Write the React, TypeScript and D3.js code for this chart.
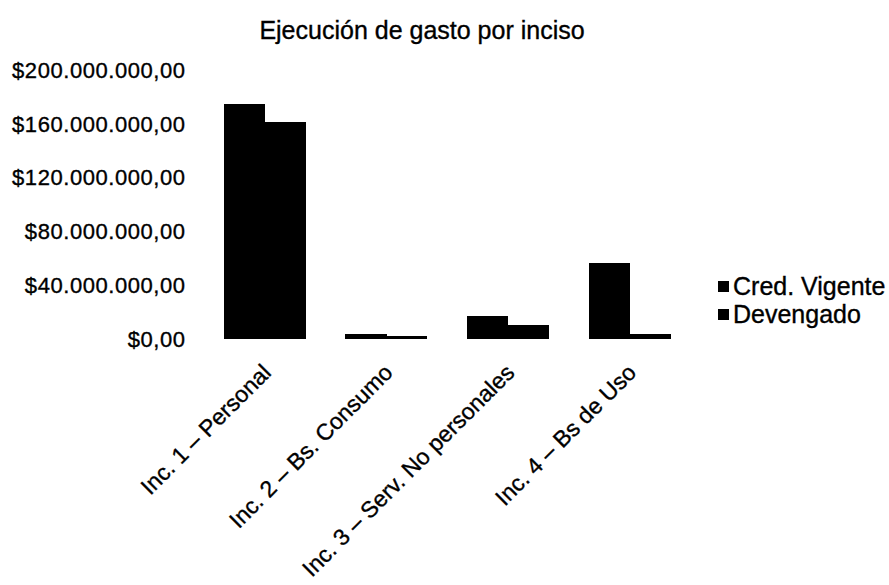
import React from "react";
import * as d3 from "d3";

const categories = [
  "Inc. 1 – Personal",
  "Inc. 2 – Bs. Consumo",
  "Inc. 3 – Serv. No personales",
  "Inc. 4 – Bs de Uso",
];
const seriesNames = ["Cred. Vigente", "Devengado"];
const credVigente = [175000000, 3500000, 17000000, 56500000];
const devengado = [161000000, 2300000, 10700000, 3500000];
const yTicks = [0, 40000000, 80000000, 120000000, 160000000, 200000000];
const title = "Ejecución de gasto por inciso";

const W = 889;
const H = 585;
const FONT = "'Liberation Sans', Arial, Helvetica, sans-serif";

function fmt(v: number): string {
  const intPart = Math.round(v).toString().replace(/\B(?=(\d{3})+(?!\d))/g, ".");
  return "$" + intPart + ",00";
}

export default function App() {
  const x = d3
    .scaleBand<string>()
    .domain(categories)
    .range([203.5, 690.5])
    .paddingInner(0.33)
    .paddingOuter(0.165);
  const xs = d3.scaleBand<string>().domain(seriesNames).range([0, x.bandwidth()]);
  const y = d3.scaleLinear().domain([0, 200000000]).range([339, 70]);
  const seriesData = [credVigente, devengado];
  const textProps = { fill: "#000", stroke: "#000", strokeWidth: 0.35 };

  return (
    <svg
      width={W}
      height={H}
      style={{ position: "absolute", left: 0, top: 0, background: "#fff" }}
      fontFamily={FONT}
    >
      <rect x={0} y={0} width={W} height={H} fill="#fff" />
      <text x={422} y={39} textAnchor="middle" fontSize={25} {...textProps}>
        {title}
      </text>
      {yTicks.map((t) => (
        <text
          key={t}
          x={185.5}
          y={y(t)}
          dy="0.35em"
          textAnchor="end"
          fontSize={22}
          letterSpacing={0.55}
          {...textProps}
        >
          {fmt(t)}
        </text>
      ))}
      {categories.map((c, i) => (
        <g key={c} transform={`translate(${x(c)},0)`}>
          {seriesNames.map((s, j) => (
            <rect
              key={s}
              x={xs(s)}
              y={y(seriesData[j][i])}
              width={(xs.bandwidth() as number) + 0.5}
              height={y(0) - y(seriesData[j][i])}
              fill="#000"
              shapeRendering="crispEdges"
            />
          ))}
        </g>
      ))}
      {categories.map((c) => {
        const cx = (x(c) as number) + x.bandwidth() / 2;
        return (
          <text
            key={c}
            transform={`translate(${cx + 8},374) rotate(-45)`}
            textAnchor="end"
            fontSize={23}
            {...textProps}
          >
            {c}
          </text>
        );
      })}
      {seriesNames.map((s, j) => (
        <g key={s} transform={`translate(718,${281 + j * 28})`}>
          <rect x={0} y={0} width={11} height={11} fill="#000" />
          <text x={15} y={14} fontSize={25} {...textProps}>
            {s}
          </text>
        </g>
      ))}
    </svg>
  );
}
